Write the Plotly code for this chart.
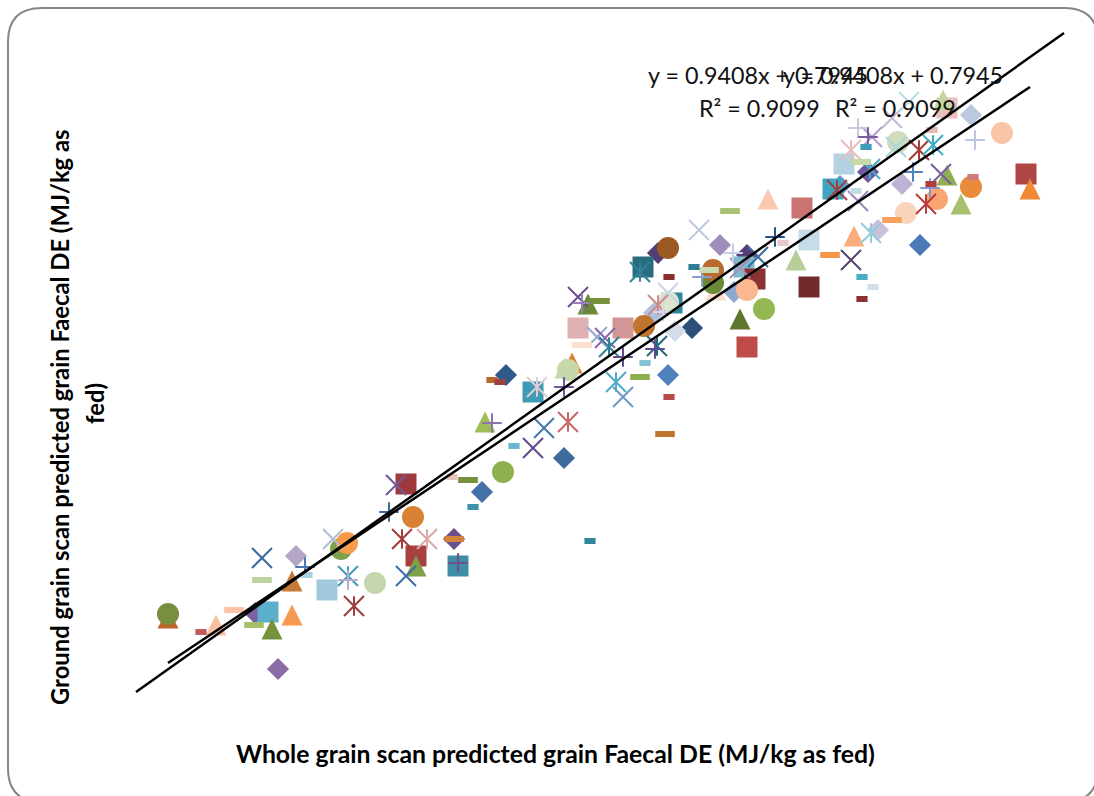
import plotly.graph_objects as go

# Values, in the chart's (unlabelled) axis units
circle_x = [168, 341, 347, 375, 413, 503, 568, 668, 713, 713, 668, 644, 747, 764, 906, 898, 937, 971, 1002]
circle_y = [614, 549, 543, 583, 517, 472, 370, 248, 283, 270, 302, 326, 290, 309, 213, 142, 199, 187, 133]
circle_c = ['#778F3F', '#7FA04A', '#F79A4A', '#C5D5AD', '#D88234', '#8FB050', '#C6D8AA', '#9C5A22', '#6B8A38', '#B86B2C',
            '#DCE6CC', '#C0752F', '#FBB790', '#94B752', '#FBD4BD', '#CFDDBB', '#F9A672', '#E88B3A', '#F9C5A8']

square_x = [268, 327, 416, 458, 406, 533, 578, 623, 643, 744, 755, 672, 747, 802, 809, 809, 844, 833, 947, 1026]
square_y = [612, 590, 556, 566, 484, 392, 328, 328, 267, 267, 279, 303, 347, 208, 240, 287, 164, 189, 108, 174]
square_c = ['#5BAFCB', '#A1C9DC', '#A84040', '#3E8EA6', '#9F3A3C', '#3F9BB5', '#DDB1B1', '#D39696', '#2A6C80', '#7FBACD',
            '#8B3333', '#31859C', '#BE4B48', '#C97373', '#C6DCE8', '#722B2B', '#B5D2E0', '#40A4C0', '#EBC0BC', '#AE4644']

triangle_x = [168, 216, 272, 292, 292, 416, 485, 572, 565, 588, 716, 740, 768, 796, 854, 961, 947, 943, 1030]
triangle_y = [618, 625, 629, 615, 581, 566, 422, 363, 368, 304, 290, 319, 199, 260, 236, 204, 175, 100, 189]
triangle_c = ['#C0642A', '#F8BFA0', '#76913D', '#F79A50', '#C67A35', '#7FA046', '#9DBE58', '#E08030', '#C5D6A8', '#6B8A38',
              '#FBDBCB', '#5F7530', '#F9C9B0', '#B8CE98', '#FBAE7B', '#A6C070', '#8FAE4F', '#C3D69B', '#EE8A38']

diamond_x = [255, 278, 296, 454, 482, 506, 564, 658, 668, 692, 654, 675, 720, 747, 734, 840, 868, 878, 902, 920, 971]
diamond_y = [613, 669, 556, 539, 492, 375, 458, 253, 375, 328, 313, 331, 245, 255, 292, 186, 172, 230, 184, 245, 115]
diamond_c = ['#7C62A0', '#8A6DA6', '#B2A5C5', '#69508C', '#4472A8', '#2F5A8C', '#3E6A9E', '#543E74', '#4F81BD', '#2C5078',
             '#B0C2E0', '#D4DCEB', '#A08DBA', '#553F78', '#8FA8D4', '#6F94C8', '#7058A0', '#CCC1D9', '#BDB3D2', '#4A7AB5', '#BCC8E0']

cross_x = [262, 333, 406, 396, 533, 544, 578, 597, 605, 623, 668, 699, 758, 740, 851, 892, 872, 896, 909, 941, 858]
cross_y = [558, 539, 576, 485, 448, 428, 297, 337, 338, 397, 293, 230, 257, 268, 260, 118, 137, 147, 102, 174, 201]
cross_c = ['#3C6A9F', '#AEBED9', '#3C6CA6', '#6E5A96', '#60498A', '#4379B0', '#6A4F8C', '#92A7D2', '#8966AE', '#6F96C8',
           '#C8D3E8', '#BDCAE2', '#3A6AA0', '#AB90C0', '#564272', '#C4B8D4', '#B0A0C8', '#A8D5E2', '#B6DDE8', '#7A5DA5', '#9A86BC']

star_x = [348, 354, 402, 427, 537, 568, 609, 616, 640, 657, 658, 837, 851, 870, 871, 919, 933, 926]
star_y = [576, 606, 539, 539, 387, 422, 347, 382, 272, 346, 305, 190, 150, 169, 233, 150, 145, 204]
star_c = ['#3F9BB5', '#9B3B3B', '#A13C3A', '#DBA9A8', '#E3CDD0', '#C76563', '#2E8395', '#4BACC6', '#2E8395', '#25697F',
          '#D08A8A', '#A04040', '#E5BDBD', '#4BACC6', '#92CDDC', '#A83A3A', '#3FAAC4', '#B83C3C']

plus_x = [305, 348, 389, 458, 492, 564, 582, 623, 655, 663, 702, 733, 775, 858, 868, 913, 930, 975]
plus_y = [567, 580, 512, 563, 423, 387, 303, 357, 349, 312, 277, 253, 237, 128, 137, 172, 188, 140]
plus_c = ['#4A77AE', '#B8AACC', '#3F6DA0', '#70508C', '#8E74AD', '#72589A', '#9A80B8', '#64488A', '#604A90', '#DDD8E8',
          '#8AA0CC', '#C6CFE4', '#23548A', '#CFC6DD', '#7B5AA6', '#4F81BD', '#7D9BD0', '#B8C6E0']

dash_x = [234, 254, 262, 454, 468, 582, 600, 640, 665, 709, 730, 830, 861, 892]
dash_y = [610, 625, 580, 539, 480, 345, 301, 377, 434, 270, 211, 255, 162, 220]
dash_c = ['#F8C3A6', '#A6C06A', '#BDD2A0', '#D5833A', '#77903D', '#FBDFD0', '#76913D', '#8FAE4F', '#C0752F', '#CBDCB5',
          '#A9C273', '#F79646', '#C7D8A8', '#F9A05A']

short_x = [201, 307, 452, 473, 492, 500, 514, 590, 645, 669, 669, 694, 783, 856, 862, 862, 866, 873, 931, 932, 973]
short_y = [632, 575, 477, 507, 380, 382, 446, 541, 363, 277, 397, 267, 243, 191, 277, 299, 147, 287, 184, 130, 177]
short_c = ['#C0595C', '#A8D0DF', '#E8C4BC', '#3E93AB', '#B56A2A', '#A04040', '#6CB6CF', '#31859C', '#83C1D6', '#8A2F30',
           '#B84A4A', '#2F7C94', '#E6C8CB', '#BFDCE8', '#4BACC6', '#8E3030', '#3E9BB5', '#CFE2EA', '#B23C3C', '#E8B8B8', '#CC7A7A']

trend_a_x = [136, 1064]
trend_a_y = [692, 33]
trend_b_x = [168, 1030]
trend_b_y = [663, 87]

equation = 'y = 0.9408x + 0.7945'
r_squared = 'R² = 0.9099'
x_title = 'Whole grain scan predicted grain Faecal DE (MJ/kg as fed)'
y_title_lines = ['Ground grain scan predicted grain Faecal DE (MJ/kg as', 'fed)']

TRI_HALF_W, TRI_HALF_H = 10.5, 10.5


def filled(x, y, c, symbol, size):
    return go.Scatter(x=x, y=y, mode='markers', showlegend=False,
                      marker=dict(symbol=symbol, size=size, color=c, line=dict(width=0)))


def stroked(x, y, c, symbol, size, width):
    return go.Scatter(x=x, y=y, mode='markers', showlegend=False,
                      marker=dict(symbol=symbol, size=size, color=c, line=dict(color=c, width=width)))


fig = go.Figure()
fig.add_trace(filled(diamond_x, diamond_y, diamond_c, 'diamond', 17))
fig.add_trace(filled(square_x, square_y, square_c, 'square', 21))
# Excel's triangles are as tall as they are wide; Plotly's marker is flatter
for tx, ty, tc in zip(triangle_x, triangle_y, triangle_c):
    fig.add_trace(go.Scatter(
        x=[tx - TRI_HALF_W, tx + TRI_HALF_W, tx, tx - TRI_HALF_W],
        y=[ty + TRI_HALF_H, ty + TRI_HALF_H, ty - TRI_HALF_H, ty + TRI_HALF_H],
        mode='lines', fill='toself', fillcolor=tc, line=dict(width=0, color=tc),
        showlegend=False, hoverinfo='skip'))
fig.add_trace(filled(circle_x, circle_y, circle_c, 'circle', 22))
fig.add_trace(stroked(cross_x, cross_y, cross_c, 'x-thin', 20, 2))
fig.add_trace(stroked(star_x, star_y, star_c, 'x-thin', 20, 2))
fig.add_trace(stroked(star_x, star_y, star_c, 'line-ns', 14, 2))
fig.add_trace(stroked(plus_x, plus_y, plus_c, 'cross-thin', 14, 2))
fig.add_trace(stroked(dash_x, dash_y, dash_c, 'line-ew', 14, 6))
fig.add_trace(stroked(short_x, short_y, short_c, 'line-ew', 8, 6))
for lx, ly in ((trend_a_x, trend_a_y), (trend_b_x, trend_b_y)):
    fig.add_trace(go.Scatter(x=lx, y=ly, mode='lines', showlegend=False,
                             line=dict(color='#000000', width=2.5)))

font = 'Lato, Carlito, Calibri, sans-serif'
notes = [
    dict(x=758, y=75, text=equation, font=dict(family=font, size=23.3, color='#111111')),
    dict(x=893, y=75, text=equation, font=dict(family=font, size=23.3, color='#111111')),
    dict(x=759, y=108, text=r_squared, font=dict(family=font, size=23.3, color='#111111')),
    dict(x=895, y=108, text=r_squared, font=dict(family=font, size=23.3, color='#111111')),
    dict(x=555, y=753, text='<b>%s</b>' % x_title, font=dict(family=font, size=24.8, color='#000000')),
    dict(x=60, y=418, text='<b>%s</b>' % y_title_lines[0], textangle=-90, font=dict(family=font, size=23.8, color='#000000')),
    dict(x=95, y=404, text='<b>%s</b>' % y_title_lines[1], textangle=-90, font=dict(family=font, size=23.8, color='#000000')),
]

frame = 'M 8,768 L 8,42 Q 8,8 42,8 L 1064,8 Q 1098,8 1098,42 L 1098,768 Q 1098,802 1064,802 L 42,802 Q 8,802 8,768 Z'

fig.update_layout(
    width=1094, height=796, margin=dict(l=0, r=0, t=0, b=0),
    paper_bgcolor='white', plot_bgcolor='white',
    xaxis=dict(range=[0, 1094], visible=False),
    yaxis=dict(range=[796, 0], visible=False),
    annotations=[dict(n, xref='x', yref='y', showarrow=False, xanchor='center', yanchor='middle') for n in notes],
    shapes=[dict(type='path', xref='x', yref='y', path=frame, line=dict(color='#868686', width=2), layer='below')],
)
fig.write_html('out.html', config={'displayModeBar': False},
               post_script="document.body.style.margin='0';document.documentElement.style.overflow='hidden';")
